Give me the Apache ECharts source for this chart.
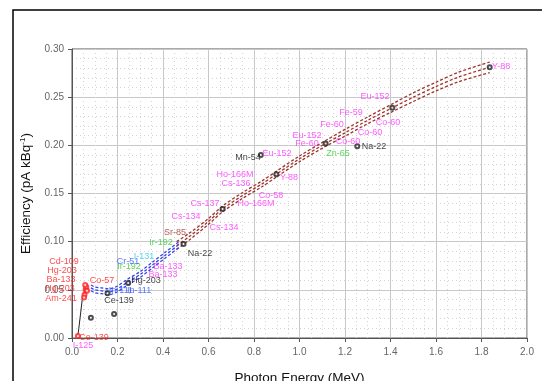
<!DOCTYPE html>
<html><head><meta charset="utf-8">
<script src="https://cdn.jsdelivr.net/npm/echarts@6/dist/echarts.min.js"></script>
<style>html,body{margin:0;padding:0;background:#fff}#c{width:542px;height:381px}</style>
</head><body><div id="c"></div>
<script>
// ---- data ----
const xTicks = [0.0,0.2,0.4,0.6,0.8,1.0,1.2,1.4,1.6,1.8,2.0];
const yTicks = [0.00,0.05,0.10,0.15,0.20,0.25,0.30];

// fitted efficiency curve (high energy) with band
const fitE   = [0.46, 0.514, 0.60, 0.662, 0.75, 0.835, 0.898, 1.0, 1.115, 1.2, 1.3, 1.408, 1.5, 1.6, 1.7, 1.836];
const fitMid = [0.096, 0.105, 0.121, 0.134, 0.148, 0.160, 0.170, 0.186, 0.202, 0.213, 0.226, 0.239, 0.250, 0.261, 0.271, 0.281];
const fitUp  = [0.100, 0.1085, 0.124, 0.137, 0.151, 0.163, 0.173, 0.189, 0.205, 0.2165, 0.2295, 0.243, 0.2545, 0.2655, 0.276, 0.2865];
const fitLo  = [0.092, 0.1015, 0.118, 0.131, 0.145, 0.157, 0.167, 0.183, 0.199, 0.2095, 0.2225, 0.235, 0.2455, 0.2565, 0.266, 0.2755];

// fitted curve (low energy) with band
const lowE   = [0.083, 0.10, 0.13, 0.163, 0.20, 0.237, 0.30, 0.355, 0.41, 0.47];
const lowMid = [0.052, 0.050, 0.049, 0.048, 0.051, 0.057, 0.066, 0.076, 0.086, 0.097];
const lowUp  = [0.055, 0.053, 0.052, 0.051, 0.054, 0.060, 0.069, 0.079, 0.089, 0.100];
const lowLo  = [0.049, 0.047, 0.046, 0.045, 0.048, 0.054, 0.063, 0.073, 0.083, 0.094];

// very low energy trace
const traceE   = [0.025, 0.030, 0.038, 0.045, 0.052, 0.060, 0.070];
const traceEff = [0.002, 0.010, 0.026, 0.040, 0.046, 0.051, 0.053];

// measured points
const redE   = [0.026, 0.055, 0.060, 0.063, 0.058, 0.066, 0.053];
const redEff = [0.002, 0.045, 0.050, 0.053, 0.055, 0.049, 0.042];
const blackE   = [0.083, 0.185, 0.156, 0.247, 0.49, 0.83, 1.254, 0.662, 0.898, 1.115, 1.408, 1.836];
const blackEff = [0.021, 0.025, 0.0465, 0.057, 0.0975, 0.19, 0.199, 0.134, 0.170, 0.202, 0.239, 0.281];

// nuclide labels: [name, energy anchor, efficiency anchor]
const magentaLabels = [
  ['Cs-137',0.585,0.140],['Cs-134',0.501,0.1256],['Cs-134',0.668,0.1142],
  ['Ho-166M',0.716,0.1692],['Cs-136',0.721,0.1599],['Ho-166M',0.809,0.1401],
  ['Co-58',0.875,0.1474],['Y-88',0.954,0.1671],['Eu-152',0.901,0.191],
  ['Eu-152',1.033,0.2107],['Fe-60',1.033,0.2014],['Fe-60',1.143,0.2211],
  ['Fe-59',1.226,0.2336],['Eu-152',1.332,0.2502],['Co-60',1.389,0.2242],
  ['Co-60',1.310,0.2138],['Co-60',1.213,0.2035],['Y-88',1.886,0.2813],
  ['Ba-133',0.422,0.0737],['Ba-133',0.400,0.0664],['I-125',0.048,-0.0083]
];
const redLabels = [
  ['Cd-109',-0.035,0.0789],['Hg-203',-0.044,0.0696],['Ba-133',-0.048,0.0602],
  ['Hg-203',-0.053,0.0509],['Am-241',-0.048,0.0415],['Co-57',0.132,0.0592],
  ['Ce-139',0.097,0.001]
];
const blackLabels = [
  ['Ce-139',0.207,0.0394],['Hg-203',0.325,0.0592],['Na-22',0.563,0.0882],
  ['Mn-54',0.774,0.1869],['Na-22',1.327,0.1983]
];
const greenLabels = [['Ir-192',0.251,0.0737],['Ir-192',0.391,0.0986],['Zn-65',1.169,0.191]];
const blueLabels  = [['Cr-51',0.246,0.0789],['In-111',0.215,0.0488],['In-111',0.295,0.0498]];
const cyanLabels  = [['I-131',0.316,0.0841]];
const brownLabels = [['Sr-85',0.453,0.110]];

// ---- chart ----
const pair = (xs, ys) => xs.map((x, i) => [x, ys[i]]);
const brown = '#a0332b', blue = '#3344ee';
const FONT = 'Liberation Sans, Arial, sans-serif';

function lineS(xs, ys, color, type, w) {
  return { type:'line', data: pair(xs, ys), showSymbol:false, smooth:0.3,
    lineStyle:{ color, width:w, type }, silent:true, z:3 };
}
function labelS(list, color) {
  return { type:'scatter', clip:false, symbolSize:0, silent:true, z:6,
    data: list.map(d => ({ name:d[0], value:[d[1], d[2]] })),
    label:{ show:true, position:'inside', formatter:'{b}', color,
      fontSize:9, fontFamily:FONT } };
}

const chart = echarts.init(document.getElementById('c'), null, {renderer:'canvas'});
chart.setOption({
  animation:false,
  grid:{ left:72, right:15, top:49, bottom:43, show:true, borderColor:'#555', borderWidth:1,
    containLabel:false, outerBoundsMode:'none' },
  graphic:[{ type:'rect', shape:{ x:13, y:10, width:600, height:420 },
    style:{ fill:null, stroke:'#000', lineWidth:1.5 }, silent:true, z:-1 }],
  xAxis:{ type:'value', min:0, max:2, interval:0.2,
    name:'Photon Energy (MeV)', nameLocation:'middle', nameGap:33,
    nameTextStyle:{ fontSize:13.5, color:'#111', fontFamily:FONT },
    axisLine:{ show:true, lineStyle:{ color:'#555' } },
    axisTick:{ show:true, length:4, lineStyle:{ color:'#555' } },
    axisLabel:{ fontSize:10, color:'#666', margin:9, fontFamily:FONT,
      formatter: v => v.toFixed(1) },
    splitLine:{ show:true, lineStyle:{ color:'#c8c8c8', width:1 } },
    minorTick:{ show:true, splitNumber:4, length:0 },
    minorSplitLine:{ show:true, lineStyle:{ color:'#d4d4d4', type:[1,3], width:1 } }
  },
  yAxis:{ type:'value', min:0, max:0.3, interval:0.05,
    name:'Efficiency (pA kBq{sup|-1})', nameLocation:'middle', nameGap:36, nameRotate:90,
    nameTextStyle:{ fontSize:13.5, color:'#111', fontFamily:FONT,
      rich:{ sup:{ fontSize:8, verticalAlign:'top', padding:[0,0,8,0], color:'#111' } } },
    axisLine:{ show:true, lineStyle:{ color:'#555' } },
    axisTick:{ show:true, length:4, lineStyle:{ color:'#555' } },
    axisLabel:{ fontSize:10, color:'#666', margin:8, fontFamily:FONT,
      formatter: v => v.toFixed(2) },
    splitLine:{ show:true, lineStyle:{ color:'#c8c8c8', width:1 } },
    minorTick:{ show:true, splitNumber:5, length:0 },
    minorSplitLine:{ show:true, lineStyle:{ color:'#d4d4d4', type:[1,3], width:1 } }
  },
  series:[
    lineS(fitE, fitUp, brown, [3,2], 1.3),
    lineS(fitE, fitMid, brown, [3,2], 1.3),
    lineS(fitE, fitLo, brown, [3,2], 1.3),
    lineS(lowE, lowUp, blue, [3,2], 1.3),
    lineS(lowE, lowMid, blue, [3,2], 1.3),
    lineS(lowE, lowLo, blue, [3,2], 1.3),
    { type:'line', data: pair(traceE, traceEff), showSymbol:false, silent:true,
      lineStyle:{ color:'#222', width:1 }, z:3 },
    { type:'scatter', data: pair(redE, redEff), symbol:'emptyCircle', symbolSize:4,
      itemStyle:{ color:'#ff2020', borderWidth:1 }, z:5, silent:true },
    { type:'scatter', data: pair(blackE, blackEff), symbol:'emptyCircle', symbolSize:4,
      itemStyle:{ color:'#222', borderWidth:1 }, z:5, silent:true },
    labelS(magentaLabels, '#ff33ff'),
    labelS(redLabels, '#ff2020'),
    labelS(blackLabels, '#111111'),
    labelS(greenLabels, '#33cc33'),
    labelS(blueLabels, '#3355ff'),
    labelS(cyanLabels, '#22ccee'),
    labelS(brownLabels, brown)
  ]
});
</script></body></html>
